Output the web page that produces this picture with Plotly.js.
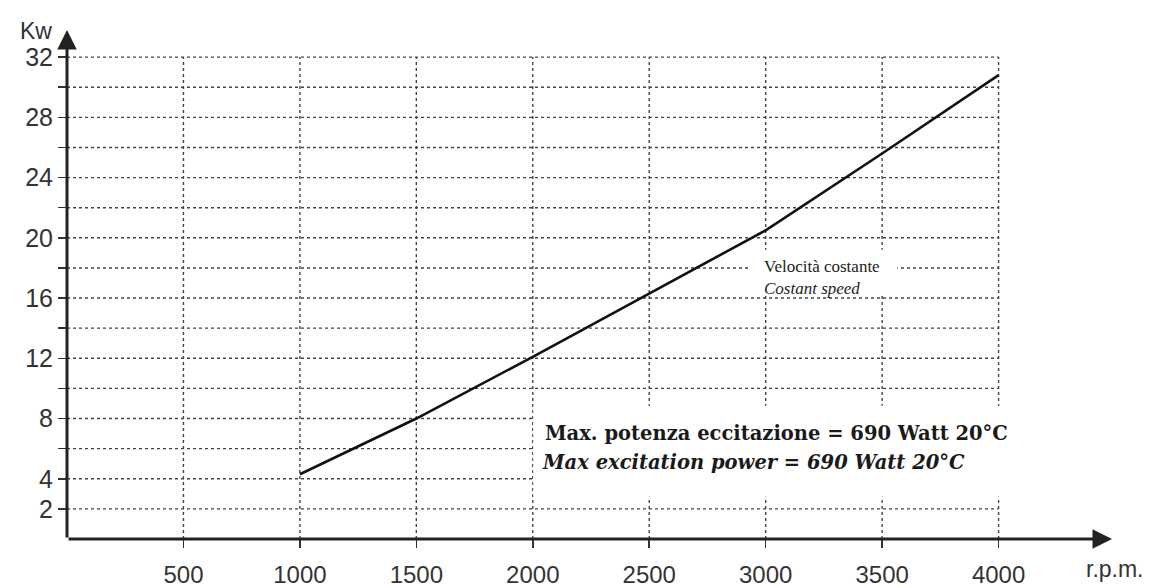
<!DOCTYPE html>
<html><head><meta charset="utf-8">
<script src="https://cdn.plot.ly/plotly-3.0.1.min.js"></script>
<style>html,body{margin:0;padding:0;background:#fff}#chart{width:1154px;height:588px}</style>
</head><body><div id="chart"></div>
<script>
// Data
const rpm = [1000, 1500, 2000, 2500, 3000, 3500, 4000];
const kw  = [4.3, 8.0, 12.1, 16.3, 20.5, 25.6, 30.8];

const xTicks = [500, 1000, 1500, 2000, 2500, 3000, 3500, 4000];
const xTickLabels = ['500', '1000', '1500', '2000', '2500', '3000', '3500', '4000'];
const yTicks = [2, 4, 6, 8, 10, 12, 14, 16, 18, 20, 22, 24, 26, 28, 30, 32];
const yTickLabels = ['2', '4', '', '8', '', '12', '', '16', '', '20', '', '24', '', '28', '', '32'];

const yUnit = 'Kw';
const xUnit = 'r.p.m.';
const noteIt = 'Velocità costante';
const noteEn = 'Costant speed';
const powerIt = 'Max. potenza eccitazione = 690 Watt 20°C';
const powerEn = 'Max excitation power = 690 Watt 20°C';

const xMax = 4487, yMax = 33.8;
const gridX = xTicks[xTicks.length - 1], gridY = yTicks[yTicks.length - 1];

const shapes = [];
yTicks.forEach(v => shapes.push({type: 'line', layer: 'below', xref: 'x', yref: 'y',
  x0: 0, x1: gridX, y0: v, y1: v, line: {color: '#454545', width: 1.4, dash: 'dot'}}));
xTicks.forEach(v => shapes.push({type: 'line', layer: 'below', xref: 'x', yref: 'y',
  x0: v, x1: v, y0: 0, y1: gridY, line: {color: '#454545', width: 1.4, dash: 'dot'}}));
// white label backgrounds hiding the grid behind the notes
shapes.push({type: 'rect', layer: 'above', xref: 'x', yref: 'y', x0: 2002, x1: 4070, y0: 2.8, y1: 8.85,
  fillcolor: '#fff', line: {width: 0}});
shapes.push({type: 'rect', layer: 'above', xref: 'x', yref: 'y', x0: 2935, x1: 3565, y0: 16.2, y1: 19.2,
  fillcolor: '#fff', line: {width: 0}});

const trace = {x: rpm, y: kw, type: 'scatter', mode: 'lines',
  line: {color: '#111', width: 2.6}, hoverinfo: 'skip', showlegend: false};

const pxX = p => (p - 67) / 1045;   // paper x from pixel
const pxY = p => (539 - p) / 509;   // paper y from pixel

const annotations = [
  {x: xMax, y: 0, ax: 0, ay: 0, xref: 'x', yref: 'y', axref: 'x', ayref: 'y', text: '',
   showarrow: true, arrowhead: 2, arrowsize: 1.3, arrowwidth: 3, arrowcolor: '#222'},
  {x: 0, y: yMax, ax: 0, ay: 0, xref: 'x', yref: 'y', axref: 'x', ayref: 'y', text: '',
   showarrow: true, arrowhead: 2, arrowsize: 1.3, arrowwidth: 3, arrowcolor: '#222'},
  {x: pxX(54), y: pxY(31), xref: 'paper', yref: 'paper', xanchor: 'right', yanchor: 'middle',
   text: yUnit, showarrow: false, font: {family: 'Liberation Sans, Arial, sans-serif', size: 23, color: '#333'}},
  {x: pxX(1115), y: pxY(569), xref: 'paper', yref: 'paper', xanchor: 'center', yanchor: 'middle',
   text: xUnit, showarrow: false, font: {family: 'Liberation Sans, Arial, sans-serif', size: 23, color: '#333'}},
  {x: pxX(763), y: pxY(277), xref: 'paper', yref: 'paper', xanchor: 'left', yanchor: 'middle', align: 'left',
   text: noteIt + '<br><i>' + noteEn + '</i>', showarrow: false, borderpad: 0,
   font: {family: 'Liberation Serif, Times New Roman, serif', size: 17, color: '#222'}},
  {x: pxX(544), y: pxY(433), xref: 'paper', yref: 'paper', xanchor: 'left', yanchor: 'middle',
   text: '<b>' + powerIt + '</b>', showarrow: false, borderpad: 0,
   font: {family: 'DejaVu Serif, serif', size: 19.5, color: '#1a1a1a'}},
  {x: pxX(541), y: pxY(462), xref: 'paper', yref: 'paper', xanchor: 'left', yanchor: 'middle',
   text: '<b><i>' + powerEn + '</i></b>', showarrow: false, borderpad: 0,
   font: {family: 'DejaVu Serif, serif', size: 19.5, color: '#1a1a1a'}}
];

const layout = {
  width: 1154, height: 588,
  margin: {l: 67, r: 1154 - 1112, t: 30, b: 49},
  paper_bgcolor: '#fff', plot_bgcolor: '#fff',
  showlegend: false,
  xaxis: {range: [0, xMax], tickvals: xTicks, ticktext: xTickLabels, showgrid: false, zeroline: false,
    showline: false, ticks: 'outside', ticklen: 8, tickwidth: 1.5, tickcolor: '#333',
    ticklabelstandoff: 6,
    tickfont: {family: 'Liberation Sans, Arial, sans-serif', size: 24, color: '#333'}},
  yaxis: {range: [0, yMax], tickvals: yTicks, ticktext: yTickLabels, showgrid: false, zeroline: false,
    showline: false, ticks: 'outside', ticklen: 8, tickwidth: 1.5, tickcolor: '#333',
    ticklabelstandoff: 0,
    tickfont: {family: 'Liberation Sans, Arial, sans-serif', size: 25, color: '#333'}},
  shapes: shapes,
  annotations: annotations
};

Plotly.newPlot('chart', [trace], layout, {staticPlot: true, displayModeBar: false});
</script>
</body></html>
